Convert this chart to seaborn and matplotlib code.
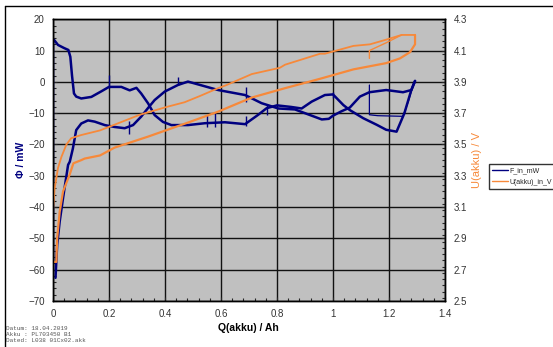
import matplotlib
matplotlib.use("Agg")
import matplotlib.pyplot as plt
import seaborn as sns
from matplotlib.lines import Line2D
from matplotlib.ticker import MultipleLocator

# heat flux while charging (Q in Ah, power in mW)
charge_q = [0.0, 0.0, 0.004, 0.018, 0.04, 0.055, 0.062, 0.068, 0.075, 0.083, 0.101, 0.137, 0.173,
            0.2, 0.244, 0.274, 0.298, 0.315, 0.34, 0.363, 0.393, 0.423, 0.482, 0.543, 0.614, 0.686,
            0.733, 0.763, 0.8, 0.85, 0.888, 0.924, 0.971, 1.0, 1.037, 1.06, 1.108, 1.156, 1.19,
            1.227, 1.255, 1.28, 1.293]
charge_mw = [-60.0, 13.4, 13.4, 11.8, 10.8, 10.2, 8.0, 2.0, -3.7, -4.7, -5.3, -4.8, -3.0,
             -1.6, -1.6, -2.7, -1.9, -3.7, -6.9, -10.6, -12.8, -13.8, -13.8, -13.2, -12.9, -13.5,
             -10.5, -8.4, -7.5, -8.0, -8.5, -6.3, -4.2, -4.0, -7.4, -9.0, -11.6, -13.7, -15.3,
             -15.9, -10.0, -2.5, 0.3]

# heat flux while discharging (Q running back to 0)
dis_q = [1.293, 1.28, 1.25, 1.19, 1.13, 1.096, 1.06, 1.03, 1.0, 0.985, 0.96, 0.93, 0.9, 0.864,
         0.805, 0.745, 0.686, 0.59, 0.482, 0.446, 0.399, 0.363, 0.339, 0.315, 0.286, 0.256, 0.22,
         0.185, 0.149, 0.125, 0.101, 0.083, 0.071, 0.06, 0.054, 0.036, 0.024, 0.015, 0.009]
dis_mw = [0.3, -2.6, -3.3, -2.6, -3.3, -4.7, -8.2, -9.4, -10.8, -11.8, -12.0, -11.0, -10.0, -8.8,
          -8.5, -6.8, -4.2, -2.6, 0.1, -1.0, -3.1, -5.8, -8.4, -11.1, -13.8, -14.8, -14.4,
          -13.8, -12.7, -12.3, -13.3, -15.4, -21.3, -25.5, -26.5, -37.1, -44.6, -52.0, -62.6]

# short extra loop near the end of charge
loop_q = [1.13, 1.13, 1.16, 1.25, 1.27, 1.288]
loop_mw = [-1.0, -10.5, -10.8, -11.0, -6.0, -0.5]

# spikes in the heat flux signal
spike_q = [0.2, 0.27, 0.446, 0.55, 0.58, 0.69, 0.69, 0.763, 1.0]
spike_lo = [-2.0, -16.5, -1.0, -14.5, -14.5, -14.0, -6.5, -10.5, -5.3]
spike_hi = [2.1, -12.5, 1.6, -10.5, -10.0, -11.0, -1.5, -7.4, -3.1]

# cell voltage, charge branch
uc_q = [0.0, 0.0, 0.006, 0.018, 0.03, 0.048, 0.065, 0.1, 0.168, 0.31, 0.406, 0.47, 0.525, 0.59,
        0.62, 0.71, 0.81, 0.829, 0.954, 0.971, 1.073, 1.132, 1.19, 1.245, 1.293]
uc_v = [2.75, 3.07, 3.22, 3.35, 3.42, 3.50, 3.54, 3.56, 3.59, 3.69, 3.74, 3.77, 3.81, 3.86,
        3.88, 3.95, 3.99, 4.01, 4.08, 4.08, 4.13, 4.14, 4.17, 4.20, 4.20]

# cell voltage, discharge branch
ud_q = [1.293, 1.293, 1.275, 1.239, 1.19, 1.073, 0.954, 0.829, 0.71, 0.59, 0.482, 0.339, 0.22,
        0.168, 0.113, 0.101, 0.073, 0.06, 0.036, 0.024, 0.015, 0.012, 0.0]
ud_v = [4.20, 4.14, 4.09, 4.05, 4.02, 3.98, 3.92, 3.86, 3.80, 3.71, 3.64, 3.55, 3.48,
        3.43, 3.41, 3.40, 3.38, 3.31, 3.20, 3.07, 2.90, 2.75, 2.75]

# small hook in the voltage trace
uh_q = [1.13, 1.13, 1.19, 1.245]
uh_v = [4.05, 4.10, 4.15, 4.20]

blue = "#000080"
orange = "#F7893A"

sns.set_style("ticks")
plt.rcParams["font.family"] = ["Liberation Sans", "DejaVu Sans"]

fig = plt.figure(figsize=(5.53, 3.47), dpi=100)
ax = fig.add_axes([0.0958, 0.1326, 0.7089, 0.8118])
ax.set_facecolor("#C0C0C0")
ax2 = ax.twinx()

sns.lineplot(x=charge_q, y=charge_mw, sort=False, estimator=None, ax=ax, color=blue, lw=1.8)
sns.lineplot(x=dis_q, y=dis_mw, sort=False, estimator=None, ax=ax, color=blue, lw=1.8)
sns.lineplot(x=loop_q, y=loop_mw, sort=False, estimator=None, ax=ax, color=blue, lw=0.9)
ax.vlines(spike_q, spike_lo, spike_hi, color=blue, lw=1.0)

sns.lineplot(x=uc_q, y=uc_v, sort=False, estimator=None, ax=ax2, color=orange, lw=1.3)
sns.lineplot(x=ud_q, y=ud_v, sort=False, estimator=None, ax=ax2, color=orange, lw=1.6)
sns.lineplot(x=uh_q, y=uh_v, sort=False, estimator=None, ax=ax2, color=orange, lw=1.0)

ax.set_xlim(0, 1.4)
ax.set_ylim(-70, 20)
ax2.set_ylim(2.5, 4.3)
ax.xaxis.set_major_locator(MultipleLocator(0.2))
ax.xaxis.set_minor_locator(MultipleLocator(0.04))
ax.yaxis.set_major_locator(MultipleLocator(10))
ax.yaxis.set_minor_locator(MultipleLocator(2))
ax2.yaxis.set_major_locator(MultipleLocator(0.2))
ax2.yaxis.set_minor_locator(MultipleLocator(0.04))
ax.set_xticks([0, 0.2, 0.4, 0.6, 0.8, 1.0, 1.2, 1.4])
ax.set_xticklabels(["0", "0.2", "0.4", "0.6", "0.8", "1", "1.2", "1.4"])
ax2.set_yticks([2.5, 2.7, 2.9, 3.1, 3.3, 3.5, 3.7, 3.9, 4.1, 4.3])
ax2.set_yticklabels(["2.5", "2.7", "2.9", "3.1", "3.3", "3.5", "3.7", "3.9", "4.1", "4.3"])

ax.grid(True, which="major", color="#111111", lw=1.0)
for a in (ax, ax2):
    for s in a.spines.values():
        s.set_color("black")
        s.set_linewidth(1.0)
    a.tick_params(which="major", direction="in", length=3, labelsize=7, labelcolor="#333333", pad=6)
    a.tick_params(which="minor", direction="in", length=2.5, width=0.8)
ax.tick_params(top=False, right=False)
ax2.tick_params(axis="y", which="both", left=False)

ax.set_xlabel("")
ax.set_ylabel("")
ax2.set_ylabel("")
fig.text(0.038, 0.539, "Φ / mW", rotation=90, ha="center", va="center",
         color=blue, fontsize=7.5, fontweight="bold")
fig.text(0.862, 0.539, "U(akku) / V", rotation=90, ha="center", va="center",
         color=orange, fontsize=8)
fig.text(0.45, 0.055, "Q(akku) / Ah", ha="center", va="center",
         color="black", fontsize=7.5, fontweight="bold")

fig.text(0.01, 0.012, "Datum: 18.04.2019\nAkku : PL703450 B1\nDated: L038 01Cx02.akk",
         ha="left", va="bottom", fontsize=4.3, family="Liberation Mono", color="#555555",
         linespacing=1.25)

handles = [Line2D([], [], color=blue, lw=1), Line2D([], [], color=orange, lw=1)]
fig.legend(handles, ["F_in_mW", "U(akku)_in_V"], loc="upper left",
           bbox_to_anchor=(0.884, 0.527), fontsize=5, frameon=True, fancybox=False,
           edgecolor="black", handlelength=2.2, handletextpad=0.3, borderpad=0.5,
           labelspacing=0.6, borderaxespad=0)

# outer frame of the chart sheet
fig.add_artist(Line2D([5 / 553, 5 / 553], [0, 1 - 6 / 347], transform=fig.transFigure,
                      color="black", lw=1))
fig.add_artist(Line2D([5 / 553, 1], [1 - 6 / 347, 1 - 6 / 347], transform=fig.transFigure,
                      color="black", lw=1))

fig.savefig("out.png", dpi=100)
